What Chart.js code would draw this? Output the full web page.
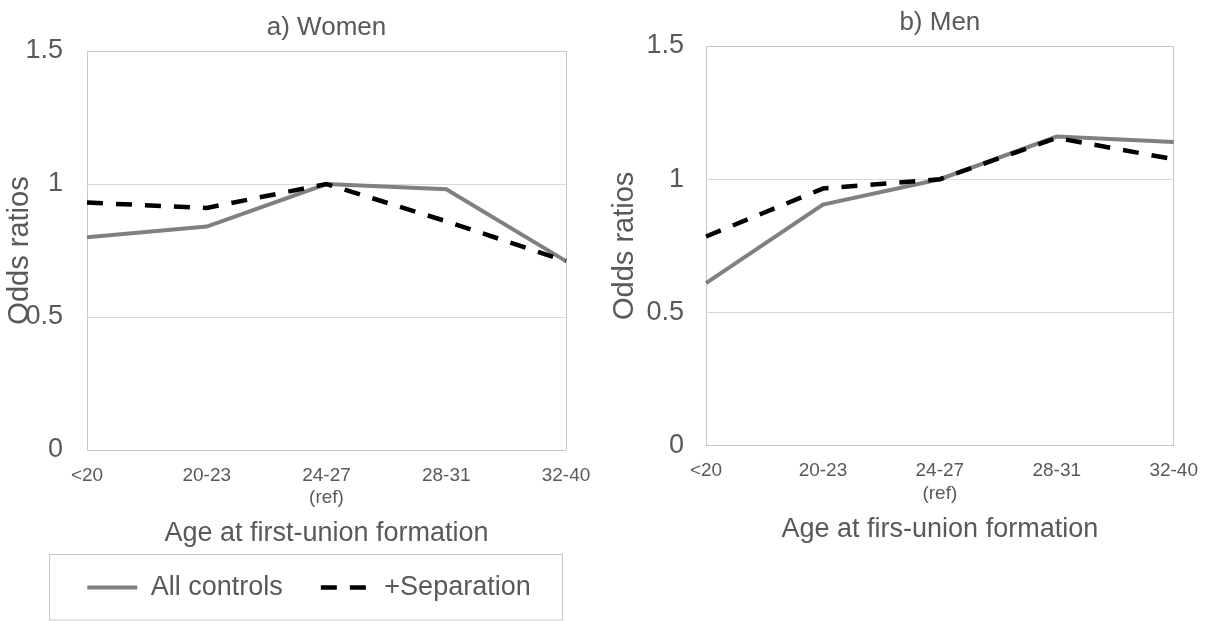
<!DOCTYPE html>
<html>
<head>
<meta charset="utf-8">
<script src="https://cdn.jsdelivr.net/npm/chart.js@4.4.0/dist/chart.umd.min.js"></script>
<style>
  html, body { margin: 0; padding: 0; background: #fff; }
  body { width: 1212px; height: 621px; position: relative; overflow: hidden; }
  .panel { position: absolute; top: 0; height: 621px; }
  #leftPanel { left: 0; width: 618px; }
  #rightPanel { left: 600px; width: 612px; }
</style>
</head>
<body>
<div class="panel" id="leftPanel"><canvas id="women"></canvas></div>
<div class="panel" id="rightPanel"><canvas id="men"></canvas></div>
<script>
// values
const ageGroups = ['<20', '20-23', ['24-27', '(ref)'], '28-31', '32-40']
const yTicks = [0, 0.5, 1, 1.5]
const womenAllControls = [0.80, 0.84, 1.00, 0.98, 0.71]
const womenSeparation = [0.93, 0.91, 1.00, 0.86, 0.71]
const menAllControls = [0.61, 0.905, 1.00, 1.16, 1.14]
const menSeparation = [0.785, 0.965, 1.00, 1.155, 1.075]

const textColor = '#595959'
const gridColor = '#d9d9d9'
const frameColor = '#c8c8c8'

Chart.defaults.font.family = '"Liberation Sans", Arial, sans-serif'
Chart.defaults.color = textColor

// light grey box round the legend, like the Excel one
const legendFrame = {
    id: 'legendFrame',
    afterDraw(chart, args, opts) {
        const lg = chart.legend
        if (!opts.show || !lg || !lg.legendHitBoxes || !lg.legendHitBoxes.length) return
        const hb = lg.legendHitBoxes
        const first = hb[0]
        const last = hb[hb.length - 1]
        const midY = first.top + first.height / 2
        const x0 = Math.round(first.left - 38) + 0.5
        const x1 = Math.round(last.left + last.width + 31) + 0.5
        const y0 = Math.round(midY) - 34 + 0.5
        const ctx = chart.ctx
        ctx.save()
        ctx.strokeStyle = frameColor
        ctx.lineWidth = 1
        ctx.strokeRect(x0, y0, x1 - x0, Math.min(66, chart.height - 1 - y0))
        ctx.restore()
    }
}

// legend samples drawn as short lines with the dataset's own dash
function lineLabels(chart) {
    const items = Chart.defaults.plugins.legend.labels.generateLabels(chart)
    return items.map(item => {
        const ds = chart.data.datasets[item.datasetIndex]
        return Object.assign(item, {
            pointStyle: 'line',
            strokeStyle: ds.borderColor,
            fillStyle: ds.borderColor,
            lineWidth: ds.borderWidth,
            lineDash: ds.borderDash || [],
            lineCap: 'butt'
        })
    })
}

function makeChart(id, o) {
    return new Chart(document.getElementById(id), {
        type: 'line',
        data: {
            labels: ageGroups,
            datasets: [{
                label: 'All controls',
                data: o.allControls,
                borderColor: '#808080',
                backgroundColor: '#808080',
                borderWidth: 4,
                pointRadius: 0,
                tension: 0,
                order: 1
            }, {
                label: '+Separation',
                data: o.separation,
                borderColor: '#000000',
                backgroundColor: '#000000',
                borderWidth: 4.5,
                borderDash: [16, 13],
                pointRadius: 0,
                tension: 0,
                order: 0
            }]
        },
        options: {
            responsive: true,
            maintainAspectRatio: false,
            animation: false,
            layout: {
                padding: { left: 0, right: o.padRight, top: 0, bottom: o.padBottom }
            },
            scales: {
                x: {
                    offset: false,
                    grid: {
                        drawTicks: false,
                        lineWidth: 1,
                        color: ctx => (ctx.index === 0 || ctx.index === ageGroups.length - 1) ? frameColor : 'rgba(0,0,0,0)'
                    },
                    border: { display: false },
                    ticks: { color: textColor, font: { size: 19 }, padding: 14, maxRotation: 0, autoSkip: false },
                    title: {
                        display: true,
                        text: o.xTitle,
                        color: textColor,
                        font: { size: 27 },
                        padding: { top: -6.4, bottom: -13.6 }
                    }
                },
                y: {
                    min: 0,
                    max: 1.5,
                    afterBuildTicks: s => { s.ticks = yTicks.map(v => ({ value: v })) },
                    afterFit: s => { s.width = o.yWidth },
                    grid: {
                        drawTicks: false,
                        lineWidth: 1,
                        color: ctx => (ctx.tick.value === 0 || ctx.tick.value === 1.5) ? frameColor : gridColor
                    },
                    border: { display: false },
                    ticks: {
                        color: textColor,
                        font: { size: 27 },
                        padding: o.yPad,
                        callback: v => String(v)
                    },
                    title: {
                        display: true,
                        text: 'Odds ratios',
                        color: textColor,
                        font: { size: 29 },
                        padding: { top: o.yTitlePad, bottom: 0 }
                    }
                },
                // empty strip on the right so the legend can sit a little right of centre
                spacer: {
                    type: 'linear',
                    position: 'right',
                    display: o.spacer > 0,
                    grid: { display: false },
                    border: { display: false },
                    ticks: { display: false },
                    afterFit: s => { s.width = o.spacer }
                }
            },
            plugins: {
                title: {
                    display: true,
                    text: o.title,
                    fullSize: false,
                    color: textColor,
                    font: { size: 26, weight: 'normal' },
                    padding: o.titlePad
                },
                legend: {
                    display: o.legend,
                    position: 'bottom',
                    labels: {
                        usePointStyle: true,
                        pointStyleWidth: 50,
                        color: textColor,
                        font: { size: 27 },
                        padding: 38,
                        generateLabels: lineLabels,
                        sort: (a, b) => a.datasetIndex - b.datasetIndex
                    }
                },
                tooltip: { enabled: false },
                legendFrame: { show: o.legend }
            }
        },
        plugins: [legendFrame]
    })
}

makeChart('women', {
    title: 'a) Women',
    xTitle: 'Age at first-union formation',
    allControls: womenAllControls,
    separation: womenSeparation,
    legend: true,
    yWidth: 87,
    yPad: 24,
    yTitlePad: 2.6,
    spacer: 52,
    padRight: 0,
    padBottom: 10,
    titlePad: { top: 11.9, bottom: 7.9 }
})

makeChart('men', {
    title: 'b) Men',
    xTitle: 'Age at firs-union formation',
    allControls: menAllControls,
    separation: menSeparation,
    legend: false,
    yWidth: 106,
    yPad: 22,
    yTitlePad: 7.6,
    spacer: 0,
    padRight: 36,
    padBottom: 89.3,
    titlePad: { top: 7.7, bottom: 7.1 }
})
</script>
</body>
</html>
